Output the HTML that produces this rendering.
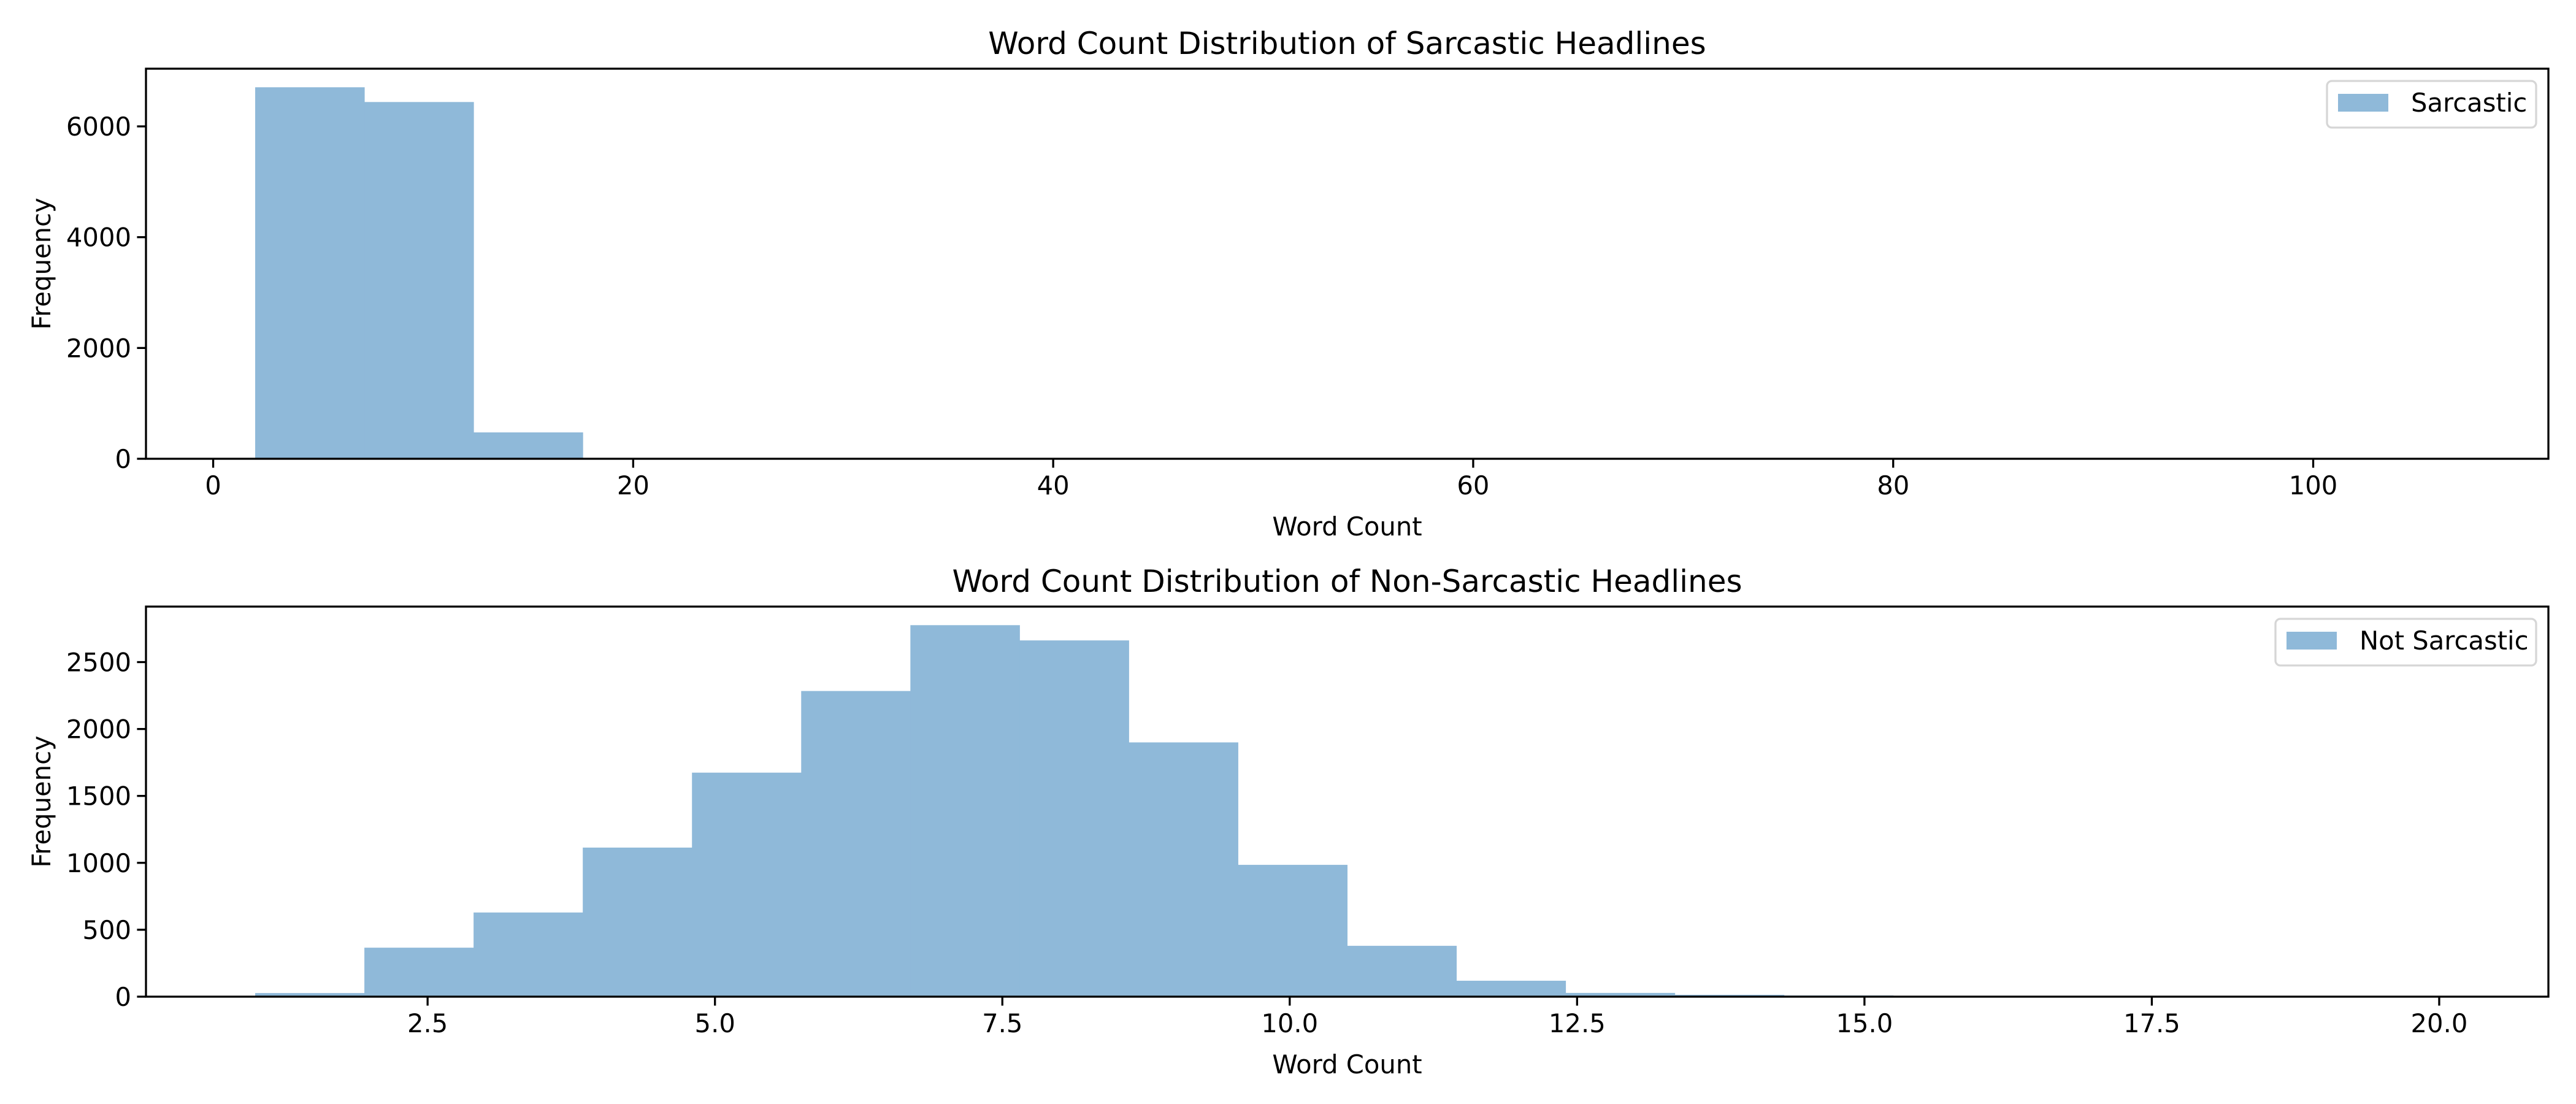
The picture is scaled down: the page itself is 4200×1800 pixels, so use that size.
<!DOCTYPE html>
<html><head><meta charset="utf-8"><style>
html,body{margin:0;padding:0;background:#fff;}
svg{display:block;font-family:"DejaVu Sans","Liberation Sans",sans-serif;}
</style></head><body>
<svg id="fig" width="4200" height="1800" viewBox="0 0 4200 1800"></svg>
<script>
const sarcEdgesStart = 2, sarcBinWidth = 5.2;
const sarcCounts = [6706, 6440, 476, 12, 3, 1, 1, 0, 0, 0, 0, 0, 0, 0, 0, 0, 0, 0, 0, 1];
const sarcXTicks = [0, 20, 40, 60, 80, 100];
const sarcYTicks = [0, 2000, 4000, 6000];
const nonEdgesStart = 1, nonBinWidth = 0.95;
const nonCounts = [27, 366, 629, 1114, 1674, 2284, 2776, 2662, 1900, 985, 380, 119, 28, 14, 9, 3, 2, 1, 1, 1];
const nonXTicks = [2.5, 5.0, 7.5, 10.0, 12.5, 15.0, 17.5, 20.0];
const nonYTicks = [0, 500, 1000, 1500, 2000, 2500];

const NS = "http://www.w3.org/2000/svg";
const svg = document.getElementById('fig');
function mk(tag, attrs, parent){
  const e = document.createElementNS(NS, tag);
  for (const k in attrs) e.setAttribute(k, attrs[k]);
  (parent||svg).appendChild(e);
  return e;
}
function panel(cfg){
  const L=238, R=4155, T=cfg.top, B=cfg.bottom;
  const n = cfg.counts.length;
  const xmin = cfg.start, xmax = cfg.start + n*cfg.w, pad=(xmax-xmin)*0.05;
  const ymax = Math.max(...cfg.counts)*1.05;
  const X = v => L + (v-(xmin-pad))/((xmax+pad)-(xmin-pad))*(R-L);
  const Y = v => B - v/ymax*(B-T);
  const g = mk('g', {});
  
  
  cfg.counts.forEach((c,i)=>{
    if (c<=0) return;
    const x0=X(cfg.start+i*cfg.w), x1=X(cfg.start+(i+1)*cfg.w);
    const r = mk('rect', {x:x0, y:Y(c), width:x1-x0+0.5, height:B-Y(c), fill:'#8fb9d9'}, g);
    
    
  });
  const sp = mk('rect', {x:L, y:T, width:R-L, height:B-T, fill:'none', stroke:'#000', 'stroke-width':3.3}, g);
  
  
  cfg.xticks.forEach(t=>{
    const x=X(t);
    mk('line',{x1:x,x2:x,y1:B,y2:B+14.6,stroke:'#000','stroke-width':3.3},g);
    const tx = mk('text',{x:x,y:B+58,'font-size':41.7,'text-anchor':'middle',fill:'#000'},g);
    tx.textContent = cfg.xfmt(t);
    
    
  });
  cfg.yticks.forEach(t=>{
    const y=Y(t);
    mk('line',{x1:L-14.6,x2:L,y1:y,y2:y,stroke:'#000','stroke-width':3.3},g);
    const tx = mk('text',{x:L-24,y:y+15,'font-size':41.7,'text-anchor':'end',fill:'#000'},g);
    tx.textContent = String(t);
    
    
  });
  const ti = mk('text',{x:(L+R)/2,y:T-24,'font-size':50,'text-anchor':'middle',fill:'#000'},g);
  ti.textContent = cfg.title;
  
  
  const xl = mk('text',{x:(L+R)/2,y:B+125,'font-size':41.7,'text-anchor':'middle',fill:'#000'},g);
  xl.textContent = 'Word Count';
  
  
  const yc=(T+B)/2;
  const yl = mk('text',{x:82,y:yc,'font-size':41.7,'text-anchor':'middle',fill:'#000',transform:'rotate(-90 82 '+yc+')'},g);
  yl.textContent = 'Frequency';
  
  
  const lg = mk('g',{},g);
  
  
  const lx=cfg.legendX, ly=T+20;
  mk('rect',{x:lx,y:ly,width:4135-lx,height:76,rx:8,fill:'#fff','fill-opacity':0.8,stroke:'#d6d6d6','stroke-width':3.3},lg);
  mk('rect',{x:lx+18,y:ly+21,width:82,height:29,fill:'#8fb9d9'},lg);
  const lt = mk('text',{x:lx+137,y:ly+50,'font-size':41.7,fill:'#000'},lg);
  lt.textContent = cfg.label;
  
  
}
panel({name:'sarcastic-histogram', top:112, bottom:748, start:sarcEdgesStart, w:sarcBinWidth, counts:sarcCounts,
  xticks:sarcXTicks, yticks:sarcYTicks, xfmt:t=>String(t),
  title:'Word Count Distribution of Sarcastic Headlines', label:'Sarcastic', legendX:3794});
panel({name:'non-sarcastic-histogram', top:989, bottom:1625, start:nonEdgesStart, w:nonBinWidth, counts:nonCounts,
  xticks:nonXTicks, yticks:nonYTicks, xfmt:t=>t.toFixed(1),
  title:'Word Count Distribution of Non-Sarcastic Headlines', label:'Not Sarcastic', legendX:3710});
</script>
</body></html>
